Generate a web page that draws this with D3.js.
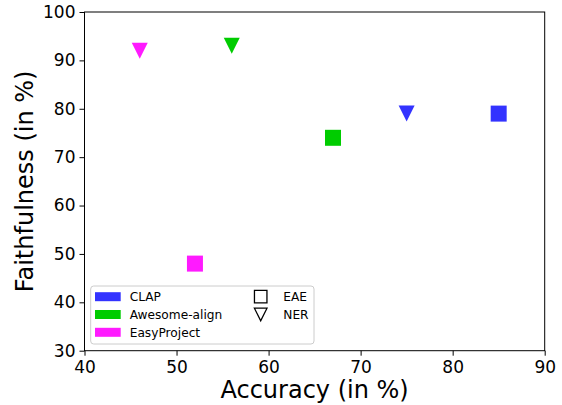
<!DOCTYPE html>
<html>
<head>
<meta charset="utf-8">
<script src="https://cdn.jsdelivr.net/npm/d3@7"></script>
<style>
  body { margin: 0; background: #fff; }
  text { font-family: "DejaVu Sans", sans-serif; fill: #000; }
</style>
</head>
<body>
<svg id="chart"></svg>
<script>
let width = 562;
let height = 405;
let margin = {"top": 12, "bottom": 54.3, "left": 84.5, "right": 17.3};

// data
const methods = ["CLAP", "Awesome-align", "EasyProject"];
const methodColors = ["#3333ff", "#00cc00", "#ff1aff"];
const tasks = ["EAE", "NER"];
const eaeAccuracy = [85, 67, 52];
const eaeFaithfulness = [79, 74, 48];
const nerAccuracy = [75, 56, 46];
const nerFaithfulness = [79, 93, 92];
const xTicks = [40, 50, 60, 70, 80, 90];
const yTicks = [30, 40, 50, 60, 70, 80, 90, 100];

let svg = d3.select("#chart")
    .attr("width", width)
    .attr("height", height);

let plotW = width - margin.left - margin.right;
let plotH = height - margin.top - margin.bottom;

let g = svg.append("g")
    .attr("transform", `translate(${margin.left}, ${margin.top})`);

let x = d3.scaleLinear().domain([40, 90]).range([0, plotW]);
let y = d3.scaleLinear().domain([30, 100]).range([plotH, 0]);

let color = d3.scaleOrdinal().domain(methods).range(methodColors);

// axes
let xAxis = g.append("g")
    .attr("transform", `translate(0, ${plotH})`)
    .call(d3.axisBottom(x).tickValues(xTicks).tickSize(5).tickPadding(5));
let yAxis = g.append("g")
    .call(d3.axisLeft(y).tickValues(yTicks).tickSize(5).tickPadding(4));

[xAxis, yAxis].forEach(function(a) {
    a.select(".domain").remove();
    a.selectAll("line").attr("stroke", "#000").attr("stroke-width", 1);
    a.selectAll("text")
        .style("font-family", "DejaVu Sans")
        .style("font-size", "17px")
        .attr("fill", "#000");
});

g.append("rect")
    .attr("width", plotW)
    .attr("height", plotH)
    .attr("fill", "none")
    .attr("stroke", "#000")
    .attr("stroke-width", 1);

svg.append("text")
    .attr("x", margin.left + plotW / 2)
    .attr("y", 398)
    .style("text-anchor", "middle")
    .style("font-size", "24px")
    .text("Accuracy (in %)");

svg.append("text")
    .attr("transform", `translate(33, ${margin.top + plotH / 2}) rotate(-90)`)
    .style("text-anchor", "middle")
    .style("font-size", "24px")
    .text("Faithfulness (in %)");

// markers
let triangleDown = "M-8,-8L8,-8L0,8Z";
let points = [];
methods.forEach(function(m, i) {
    points.push({method: m, task: "EAE", acc: eaeAccuracy[i], faith: eaeFaithfulness[i]});
    points.push({method: m, task: "NER", acc: nerAccuracy[i], faith: nerFaithfulness[i]});
});

g.selectAll("path.point")
    .data(points)
    .enter().append("path")
    .attr("class", "point")
    .attr("d", (d) => d.task == "EAE" ? d3.symbol().type(d3.symbolSquare).size(256)() : triangleDown)
    .attr("transform", (d) => `translate(${x(d.acc)},${y(d.faith)})`)
    .style("fill", (d) => color(d.method));

// legend
let legend = svg.append("g")
    .attr("transform", "translate(90.7, 286)");

legend.append("rect")
    .attr("width", 223.3)
    .attr("height", 58)
    .attr("rx", 3)
    .style("fill", "#fff")
    .style("fill-opacity", 0.8)
    .style("stroke", "#cccccc")
    .style("stroke-width", 1);

let rowY = (i) => 10.7 + i * 17.8;

let methodRows = legend.selectAll("g.method")
    .data(methods)
    .enter().append("g")
    .attr("class", "method")
    .attr("transform", (d, i) => `translate(0, ${rowY(i)})`);
methodRows.append("rect")
    .attr("x", 4.3)
    .attr("y", -4.5)
    .attr("width", 25.7)
    .attr("height", 9)
    .style("fill", (d) => color(d));
methodRows.append("text")
    .attr("x", 39)
    .attr("dy", "0.35em")
    .style("font-size", "12.2px")
    .text((d) => d);

let taskRows = legend.selectAll("g.task")
    .data(tasks)
    .enter().append("g")
    .attr("class", "task")
    .attr("transform", (d, i) => `translate(170, ${rowY(i)})`);
taskRows.append("path")
    .attr("d", (d) => d == "EAE" ? d3.symbol().type(d3.symbolSquare).size(156)() : "M-6.3,-6.3L6.3,-6.3L0,6.3Z")
    .style("fill", "none")
    .style("stroke", "#000")
    .style("stroke-width", 1.3);
taskRows.append("text")
    .attr("x", 22.6)
    .attr("dy", "0.35em")
    .style("font-size", "12.2px")
    .text((d) => d);
</script>
</body>
</html>
